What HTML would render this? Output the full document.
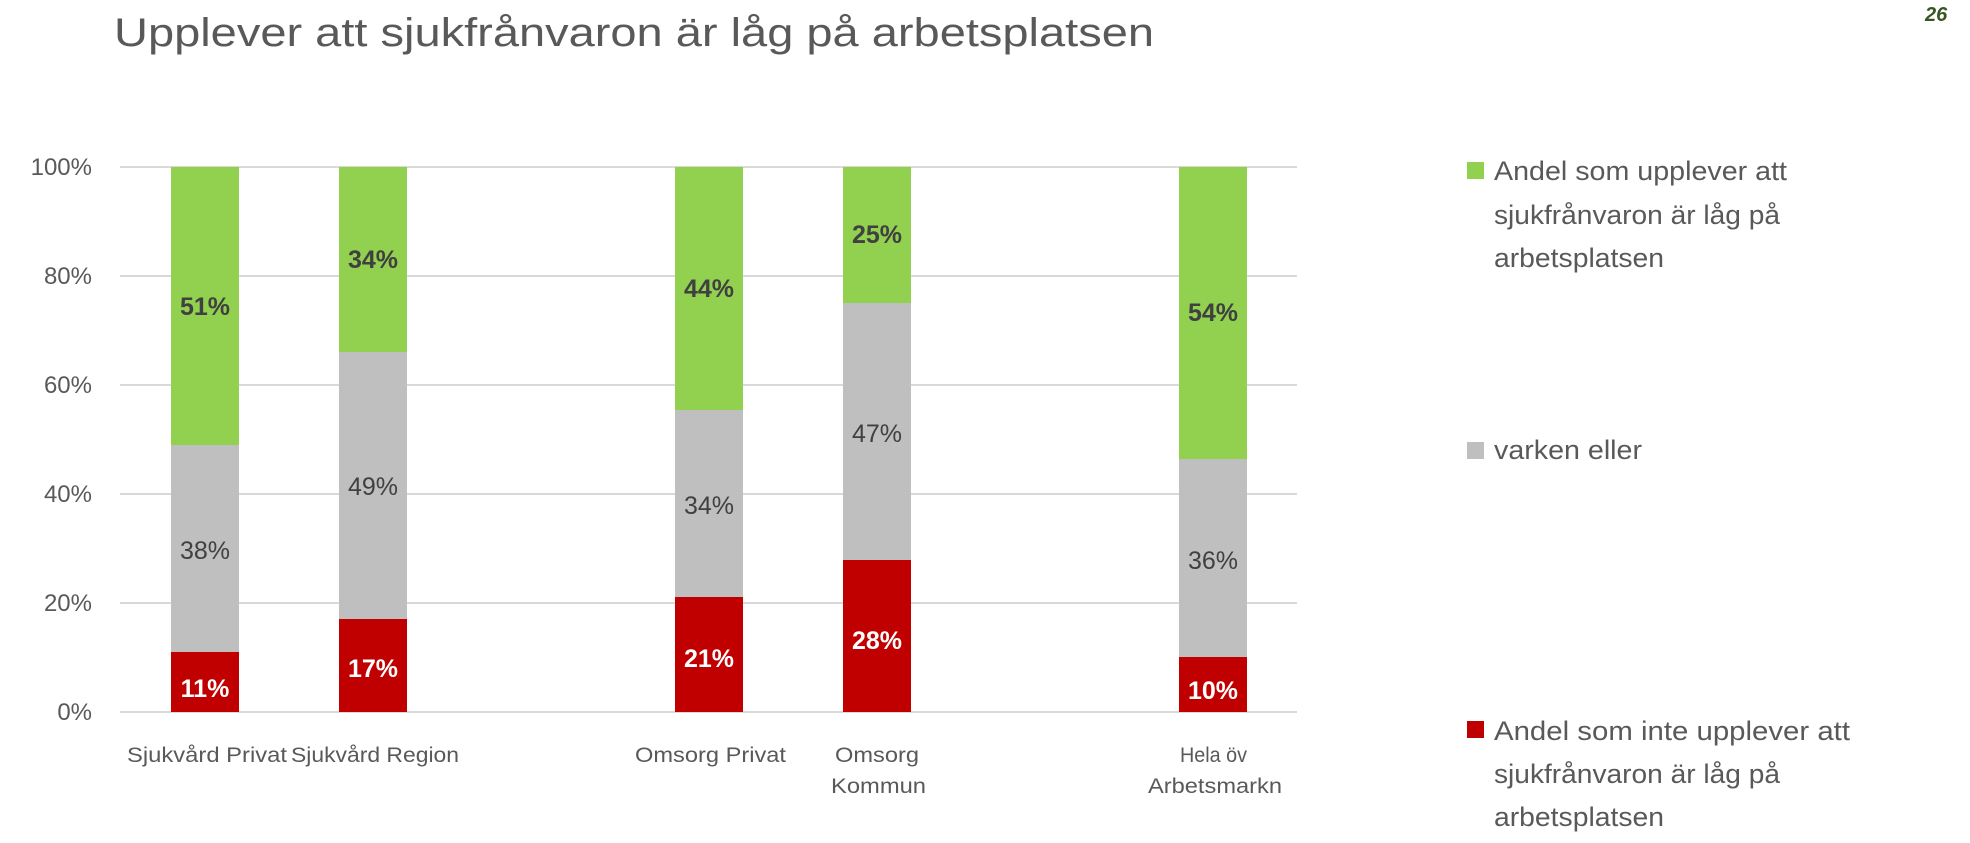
<!DOCTYPE html>
<html><head><meta charset="utf-8"><style>
html,body{margin:0;padding:0;background:#fff;}
svg{display:block;font-family:"Liberation Sans",sans-serif;}
</style></head><body>
<svg width="1970" height="843" viewBox="0 0 1970 843" xmlns="http://www.w3.org/2000/svg">
<text x="114" y="46" font-size="40" fill="#595959" textLength="1040" lengthAdjust="spacingAndGlyphs">Upplever att sjukfrånvaron är låg på arbetsplatsen</text>
<text x="1925" y="21" font-size="20" font-weight="bold" font-style="italic" fill="#375623">26</text>
<g stroke="#d9d9d9" stroke-width="2">
<line x1="120" x2="1297" y1="167" y2="167"/>
<line x1="120" x2="1297" y1="276" y2="276"/>
<line x1="120" x2="1297" y1="385" y2="385"/>
<line x1="120" x2="1297" y1="494" y2="494"/>
<line x1="120" x2="1297" y1="603" y2="603"/>
<line x1="120" x2="1297" y1="712" y2="712"/>
</g>
<g font-size="24" fill="#595959" text-anchor="end">
<text x="92" y="175">100%</text>
<text x="92" y="284">80%</text>
<text x="92" y="393">60%</text>
<text x="92" y="502">40%</text>
<text x="92" y="611">20%</text>
<text x="92" y="720">0%</text>
</g>
<g>
<rect x="171" y="652" width="68" height="60" fill="#c00000"/>
<rect x="171" y="445" width="68" height="207" fill="#bfbfbf"/>
<rect x="171" y="167" width="68" height="278" fill="#92d050"/>
<rect x="339" y="619" width="68" height="93" fill="#c00000"/>
<rect x="339" y="352" width="68" height="267" fill="#bfbfbf"/>
<rect x="339" y="167" width="68" height="185" fill="#92d050"/>
<rect x="675" y="597" width="68" height="115" fill="#c00000"/>
<rect x="675" y="410" width="68" height="187" fill="#bfbfbf"/>
<rect x="675" y="167" width="68" height="243" fill="#92d050"/>
<rect x="843" y="560" width="68" height="152" fill="#c00000"/>
<rect x="843" y="303" width="68" height="257" fill="#bfbfbf"/>
<rect x="843" y="167" width="68" height="136" fill="#92d050"/>
<rect x="1179" y="657" width="68" height="55" fill="#c00000"/>
<rect x="1179" y="459" width="68" height="198" fill="#bfbfbf"/>
<rect x="1179" y="167" width="68" height="292" fill="#92d050"/>
</g>
<g font-size="25" text-anchor="middle">
<text x="205" y="697" fill="#fff" font-weight="bold">11%</text>
<text x="205" y="559" fill="#404040">38%</text>
<text x="205" y="315" fill="#404040" font-weight="bold">51%</text>
<text x="373" y="677" fill="#fff" font-weight="bold">17%</text>
<text x="373" y="495" fill="#404040">49%</text>
<text x="373" y="268" fill="#404040" font-weight="bold">34%</text>
<text x="709" y="667" fill="#fff" font-weight="bold">21%</text>
<text x="709" y="514" fill="#404040">34%</text>
<text x="709" y="297" fill="#404040" font-weight="bold">44%</text>
<text x="877" y="649" fill="#fff" font-weight="bold">28%</text>
<text x="877" y="442" fill="#404040">47%</text>
<text x="877" y="243" fill="#404040" font-weight="bold">25%</text>
<text x="1213" y="699" fill="#fff" font-weight="bold">10%</text>
<text x="1213" y="569" fill="#404040">36%</text>
<text x="1213" y="321" fill="#404040" font-weight="bold">54%</text>
</g>
<g font-size="21" fill="#595959">
<text x="127" y="762" textLength="160" lengthAdjust="spacingAndGlyphs">Sjukvård Privat</text>
<text x="291" y="762" textLength="168" lengthAdjust="spacingAndGlyphs">Sjukvård Region</text>
<text x="635" y="762" textLength="151" lengthAdjust="spacingAndGlyphs">Omsorg Privat</text>
<text x="835" y="762" textLength="84" lengthAdjust="spacingAndGlyphs">Omsorg</text>
<text x="831" y="793" textLength="95" lengthAdjust="spacingAndGlyphs">Kommun</text>
<text x="1180" y="762" textLength="67" lengthAdjust="spacingAndGlyphs">Hela öv</text>
<text x="1148" y="793" textLength="134" lengthAdjust="spacingAndGlyphs">Arbetsmarkn</text>
</g>
<rect x="1467" y="162" width="17" height="17" fill="#92d050"/>
<rect x="1467" y="442" width="17" height="17" fill="#bfbfbf"/>
<rect x="1467" y="721" width="17" height="17" fill="#c00000"/>
<g font-size="27" fill="#595959">
<text x="1494" y="180" textLength="293" lengthAdjust="spacingAndGlyphs">Andel som upplever att</text>
<text x="1494" y="224" textLength="286" lengthAdjust="spacingAndGlyphs">sjukfrånvaron är låg på</text>
<text x="1494" y="267" textLength="170" lengthAdjust="spacingAndGlyphs">arbetsplatsen</text>
<text x="1494" y="459" textLength="148" lengthAdjust="spacingAndGlyphs">varken eller</text>
<text x="1494" y="740" textLength="356" lengthAdjust="spacingAndGlyphs">Andel som inte  upplever att</text>
<text x="1494" y="783" textLength="286" lengthAdjust="spacingAndGlyphs">sjukfrånvaron är låg på</text>
<text x="1494" y="826" textLength="170" lengthAdjust="spacingAndGlyphs">arbetsplatsen</text>
</g>
</svg>
</body></html>
